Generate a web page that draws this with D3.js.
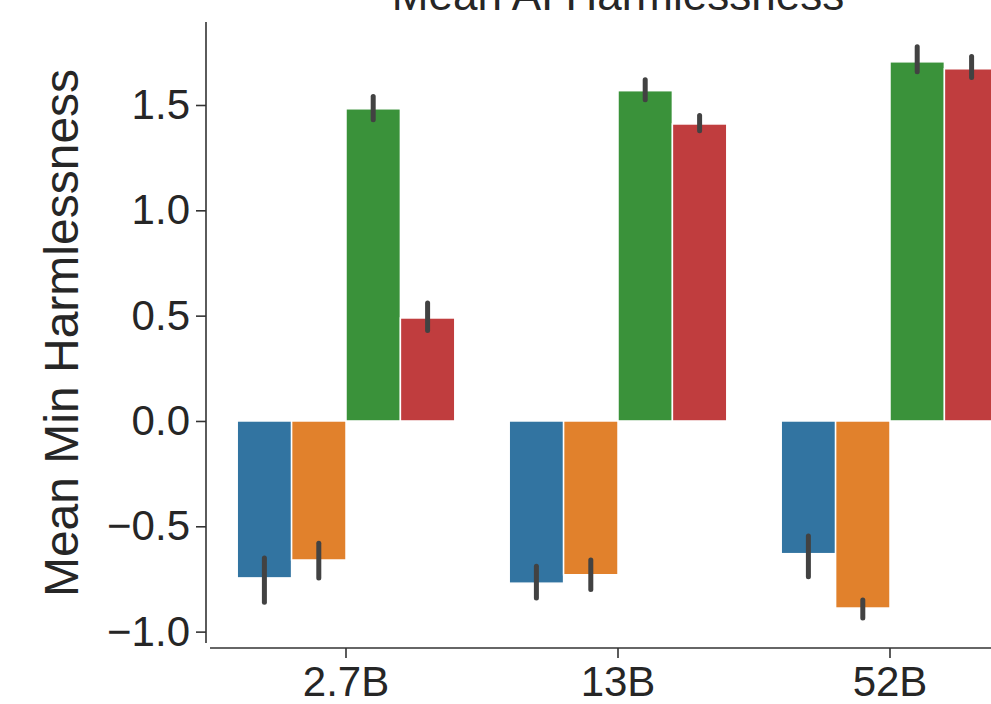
<!DOCTYPE html>
<html>
<head>
<meta charset="utf-8">
<script src="https://cdn.jsdelivr.net/npm/d3@7"></script>
<style>
  body { margin: 0; background: #fff; }
  svg { display: block; font-family: "Liberation Sans", Arial, sans-serif; }
</style>
</head>
<body>
<div id="chart"></div>
<script>
const models = ["2.7B", "13B", "52B"];
const conditions = ["a", "b", "c", "d"];
const colors = ["#3274a1", "#e1812c", "#3a923a", "#c03d3e"];

// mean per model, one array per condition
const meanA = [-0.745, -0.77, -0.63];
const meanB = [-0.66, -0.73, -0.888];
const meanC = [1.482, 1.568, 1.705];
const meanD = [0.489, 1.41, 1.672];

// error bar ends (low, high)
const errA = [[-0.86, -0.65], [-0.84, -0.69], [-0.74, -0.546]];
const errB = [[-0.746, -0.58], [-0.80, -0.66], [-0.935, -0.85]];
const errC = [[1.43, 1.54], [1.525, 1.62], [1.658, 1.777]];
const errD = [[0.43, 0.56], [1.378, 1.45], [1.63, 1.73]];

const yTicks = [-1.0, -0.5, 0.0, 0.5, 1.0, 1.5];

const means = [meanA, meanB, meanC, meanD];
const errs = [errA, errB, errC, errD];

const W = 991, H = 704;

const svg = d3.select("#chart")
    .append("svg")
    .attr("width", W)
    .attr("height", H);

const x = d3.scaleBand()
    .domain(models)
    .range([210, 1026])
    .paddingInner(0)
    .paddingOuter(0);

const xSub = d3.scaleBand()
    .domain(conditions)
    .range([0, x.bandwidth() * 0.8]);

const y = d3.scaleLinear()
    .domain([-1.054, 1.894])
    .range([643, 22]);

const rows = [];
models.forEach((m, i) => {
    conditions.forEach((c, j) => {
        rows.push({ model: m, cond: c, idx: j, value: means[j][i], err: errs[j][i] });
    });
});

const groupLeft = m => x(m) + x.bandwidth() * 0.1;

svg.append("g")
    .selectAll("rect")
    .data(rows)
    .join("rect")
    .attr("x", d => groupLeft(d.model) + xSub(d.cond))
    .attr("width", xSub.bandwidth())
    .attr("y", d => y(Math.max(0, d.value)))
    .attr("height", d => Math.abs(y(d.value) - y(0)))
    .attr("fill", d => colors[d.idx])
    .attr("stroke", "#fff")
    .attr("stroke-width", 1.5);

svg.append("g")
    .selectAll("line")
    .data(rows)
    .join("line")
    .attr("x1", d => groupLeft(d.model) + xSub(d.cond) + xSub.bandwidth() / 2)
    .attr("x2", d => groupLeft(d.model) + xSub(d.cond) + xSub.bandwidth() / 2)
    .attr("y1", d => y(d.err[0]))
    .attr("y2", d => y(d.err[1]))
    .attr("stroke", "#424242")
    .attr("stroke-width", 5)
    .attr("stroke-linecap", "round");

// y axis
const yAxis = svg.append("g")
    .attr("transform", "translate(206,0)")
    .call(d3.axisLeft(y).tickValues(yTicks).tickFormat(d => d3.format(".1f")(d).replace("-", "\u2212")).tickSize(10).tickPadding(6));

// x axis
const xAxis = svg.append("g")
    .attr("transform", "translate(0,648)")
    .call(d3.axisBottom(x).tickSize(10).tickPadding(8));

[yAxis, xAxis].forEach(g => {
    g.select(".domain").attr("stroke", "#333").attr("stroke-width", 1.6);
    g.selectAll(".tick line").attr("stroke", "#333").attr("stroke-width", 1.6);
    g.selectAll(".tick text")
        .attr("fill", "#262626")
        .style("font-size", "42px")
        .style("font-family", "'Liberation Sans', Arial, sans-serif");
});
xAxis.select(".domain").attr("d", "M210,0H1026");
yAxis.select(".domain").attr("d", "M0,22V643");

svg.append("text")
    .attr("transform", "rotate(-90)")
    .attr("x", -333)
    .attr("y", 78)
    .attr("text-anchor", "middle")
    .attr("fill", "#262626")
    .style("font-size", "48px")
    .text("Mean Min Harmlessness");

// title sits mostly above the visible area, as in the reference
svg.append("text")
    .attr("x", 618)
    .attr("y", 10)
    .attr("text-anchor", "middle")
    .attr("fill", "#262626")
    .style("font-size", "44px")
    .text("Mean AI Harmlessness");
</script>
</body>
</html>
